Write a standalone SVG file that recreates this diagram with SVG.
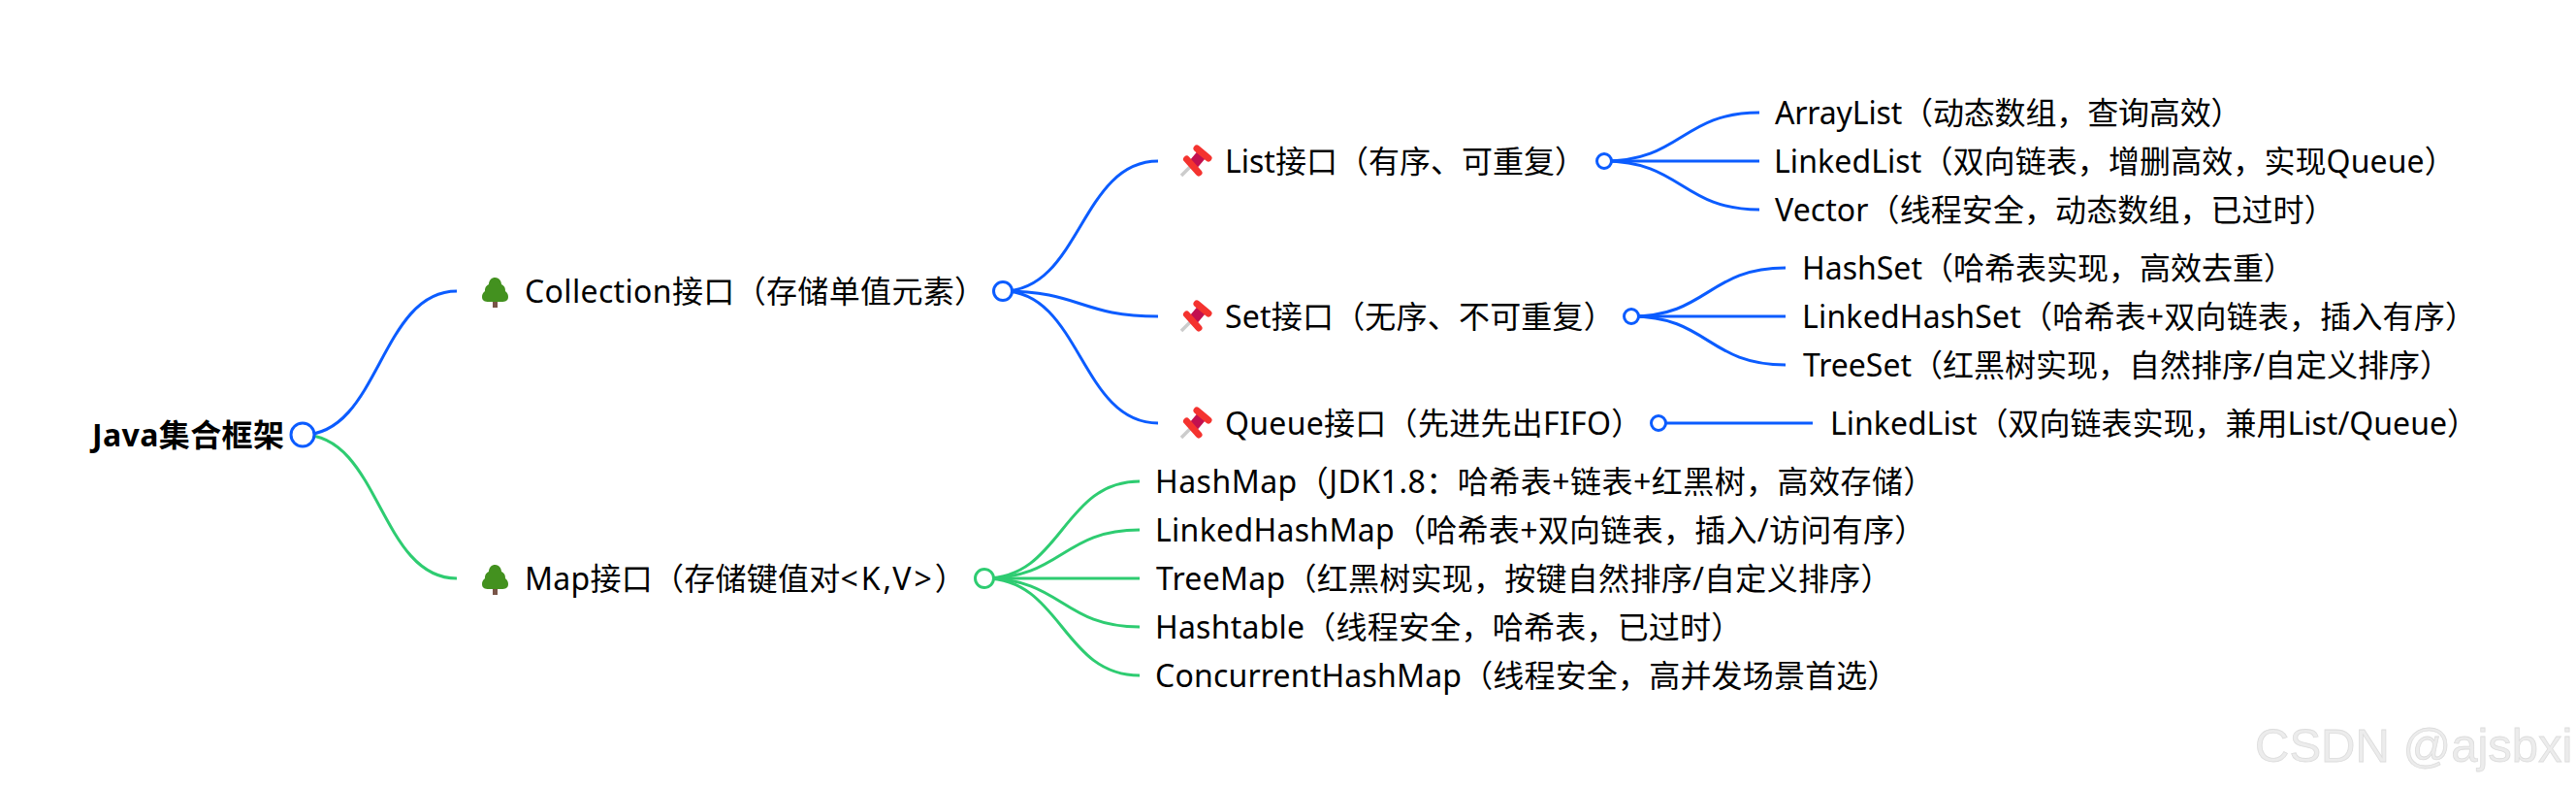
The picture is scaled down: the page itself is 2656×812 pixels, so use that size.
<svg xmlns="http://www.w3.org/2000/svg" width="2656" height="812" viewBox="0 0 2656 812">
<style>
text{font-family:"Noto Sans","Noto Sans CJK SC",sans-serif;font-size:32px;fill:#000}
.root{font-weight:700}
.wm{font-family:"Liberation Sans",sans-serif;font-size:49px;fill:#ececec;stroke:#dcdcdc;stroke-width:.8}
.e{fill:none;stroke-width:3}
.b{stroke:#0b5cff}
.g{stroke:#2ecc71}
circle{fill:#fff;stroke-width:3}
</style>
<defs>
<g id="tree"><rect x="11" y="22" width="5" height="9" fill="#795548"/><path d="M13.500 0C9 0 7 4 7 7C3 9 3 12 3 14C0.500 16 0 18 0 20C0 24 3 25 7 25H20C24 25 27 24 27 20C27 18 26.500 16 24 14C24 12 24 9 20 7C20 4 18 0 13.500 0Z" fill="#43911f"/></g>
<g id="pin"><path d="M1 29L11 19" stroke="#ccc" stroke-width="3.500" fill="none"/><path d="M12 19L23 6" stroke="#c2104f" stroke-width="11" fill="none"/><path d="M6.500 12L19 26M17 1L29 11" stroke="#f4332f" stroke-width="7" stroke-linecap="round" fill="none"/></g>
</defs>
<rect width="2656" height="812" fill="#fff"/>
<g id="connectors">
<path class="e b" d="M312 448C391.500 448 391.500 300 471 300"/>
<path class="e g" d="M312 448C391.500 448 391.500 596 471 596"/>
<path class="e b" d="M1034 300C1114 300 1114 166 1194 166"/>
<path class="e b" d="M1034 300C1114 300 1114 326 1194 326"/>
<path class="e b" d="M1034 300C1114 300 1114 436 1194 436"/>
<path class="e b" d="M1654 166C1734 166 1734 116 1814 116"/>
<path class="e b" d="M1654 166H1814"/>
<path class="e b" d="M1654 166C1734 166 1734 216 1814 216"/>
<path class="e b" d="M1682 326C1761 326 1761 276 1841 276"/>
<path class="e b" d="M1682 326H1841"/>
<path class="e b" d="M1682 326C1761 326 1761 376 1841 376"/>
<path class="e b" d="M1710 436H1869"/>
<path class="e g" d="M1015 596C1095 596 1095 496 1175 496"/>
<path class="e g" d="M1015 596C1095 596 1095 546 1175 546"/>
<path class="e g" d="M1015 596H1175"/>
<path class="e g" d="M1015 596C1095 596 1095 646 1175 646"/>
<path class="e g" d="M1015 596C1095 596 1095 696 1175 696"/>
</g>
<g id="root"><text class="root" x="95" y="460" letter-spacing=".4">Java集合框架</text><circle class="b" cx="312" cy="448" r="12"/></g>
<g id="collection"><use href="#tree" x="497" y="286"/><text x="541" y="312" letter-spacing=".35">Collection接口（存储单值元素）</text><circle class="b" cx="1034" cy="300" r="9.500"/></g>
<g id="map"><use href="#tree" x="497" y="582"/><text x="541" y="608" letter-spacing=".25">Map接口（存储键值对<tspan letter-spacing="3">&lt;K,V&gt;</tspan>）</text><circle class="g" cx="1015" cy="596" r="9.500"/></g>
<g id="list"><use href="#pin" x="1217" y="152"/><text x="1263" y="178">List接口（有序、可重复）</text><circle class="b" cx="1654" cy="166" r="7.500"/></g>
<g id="set"><use href="#pin" x="1217" y="312"/><text x="1263" y="338" letter-spacing=".2">Set接口（无序、不可重复）</text><circle class="b" cx="1682" cy="326" r="7.500"/></g>
<g id="queue"><use href="#pin" x="1217" y="422"/><text x="1263" y="448" letter-spacing=".28">Queue接口（先进先出FIFO）</text><circle class="b" cx="1710" cy="436" r="7.500"/></g>
<g id="arraylist"><text x="1830" y="128" letter-spacing="-.15">ArrayList（动态数组，查询高效）</text></g>
<g id="linkedlist"><text x="1829" y="178" letter-spacing=".09">LinkedList（双向链表，增删高效，实现Queue）</text></g>
<g id="vector"><text x="1830" y="228" letter-spacing=".08">Vector（线程安全，动态数组，已过时）</text></g>
<g id="hashset"><text x="1858" y="288">HashSet（哈希表实现，高效去重）</text></g>
<g id="linkedhashset"><text x="1858" y="338" letter-spacing=".19">LinkedHashSet（哈希表+双向链表，插入有序）</text></g>
<g id="treeset"><text x="1859" y="388">TreeSet（红黑树实现，自然排序/自定义排序）</text></g>
<g id="linkedlist2"><text x="1887" y="448">LinkedList（双向链表实现，兼用List/Queue）</text></g>
<g id="hashmap"><text x="1191" y="508" letter-spacing=".48">HashMap（JDK1.8：哈希表+链表+红黑树，高效存储）</text></g>
<g id="linkedhashmap"><text x="1191" y="558" letter-spacing=".3">LinkedHashMap（哈希表+双向链表，插入/访问有序）</text></g>
<g id="treemap"><text x="1192" y="608" letter-spacing=".27">TreeMap（红黑树实现，按键自然排序/自定义排序）</text></g>
<g id="hashtable"><text x="1191" y="658" letter-spacing=".23">Hashtable（线程安全，哈希表，已过时）</text></g>
<g id="concurrenthashmap"><text x="1191" y="708" letter-spacing=".18">ConcurrentHashMap（线程安全，高并发场景首选）</text></g>
<text class="wm" x="2325" y="785">CSDN @ajsbxi</text>
</svg>
